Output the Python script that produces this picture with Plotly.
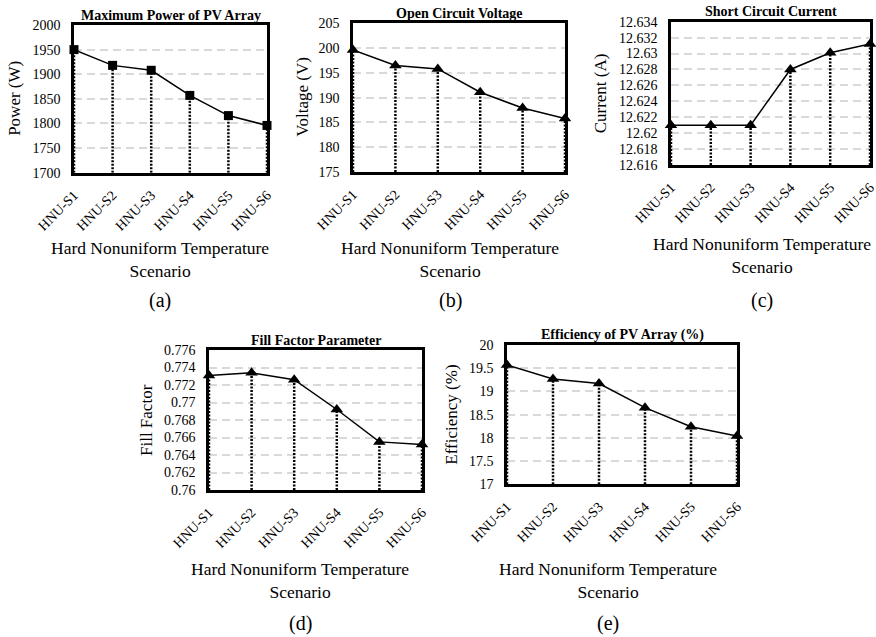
import plotly.graph_objects as go

W, H = 876, 637
FONT = "Times New Roman, Liberation Serif, DejaVu Serif, serif"

scenarios = ["HNU-S1", "HNU-S2", "HNU-S3", "HNU-S4", "HNU-S5", "HNU-S6"]
power = [1950, 1918, 1908, 1857, 1816, 1796]
voltage = [199.6, 196.5, 195.8, 191.1, 187.9, 185.8]
current = [12.621, 12.621, 12.621, 12.628, 12.6301, 12.6312]
fill_factor = [0.7731, 0.7734, 0.7726, 0.7692, 0.7655, 0.7652]
efficiency = [19.57, 19.27, 19.17, 18.65, 18.24, 18.04]

panels = [
    dict(y=power, title="Maximum Power of PV Array", ytitle="Power (W)", rng=[1700, 2000], dtick=50,
         marker="square", px=(74, 267, 25, 172.7), ytx=15, label="(a)", lx=160, ly=(259, 300)),
    dict(y=voltage, title="Open Circuit Voltage", ytitle="Voltage (V)", rng=[175, 205], dtick=5,
         marker="triangle-up", px=(353, 565, 23.3, 172), ytx=303, label="(b)", lx=450, ly=(259, 300)),
    dict(y=current, title="Short Circuit Current", ytitle="Current (A)", rng=[12.616, 12.634], dtick=0.002,
         marker="triangle-up", px=(671, 870, 21.7, 165), ytx=600, label="(c)", lx=762, ly=(256, 300)),
    dict(y=fill_factor, title="Fill Factor Parameter", ytitle="Fill Factor", rng=[0.76, 0.776], dtick=0.002,
         marker="triangle-up", px=(209, 422, 350, 490), ytx=146, label="(d)", lx=300, ly=(580, 623)),
    dict(y=efficiency, title="Efficiency of PV Array (%)", ytitle="Efficiency (%)", rng=[17, 20], dtick=0.5,
         marker="triangle-up", px=(507, 737, 345, 484.3), ytx=452, label="(e)", lx=608, ly=(580, 623)),
]

fig = go.Figure()
annotations = []

for i, p in enumerate(panels, start=1):
    xa = "x" if i == 1 else f"x{i}"
    ya = "y" if i == 1 else f"y{i}"
    x0, x1, top, bot = p["px"]
    ymin = p["rng"][0]
    # dotted drop lines from each point to the x axis
    for s, v in zip(scenarios, p["y"]):
        fig.add_trace(go.Scatter(x=[s, s], y=[ymin, v], mode="lines", xaxis=xa, yaxis=ya,
                                 line=dict(color="black", width=2.5, dash="2px,1.5px"),
                                 showlegend=False, hoverinfo="skip", cliponaxis=False))
    fig.add_trace(go.Scatter(x=scenarios, y=p["y"], mode="lines+markers", xaxis=xa, yaxis=ya,
                             line=dict(color="black", width=1.5),
                             marker=dict(symbol=p["marker"], size=9 if p["marker"] == "square" else 11,
                                         color="black"),
                             showlegend=False, cliponaxis=False))
    axkey = "xaxis" if i == 1 else f"xaxis{i}"
    aykey = "yaxis" if i == 1 else f"yaxis{i}"
    fig.layout[axkey] = dict(
        domain=[x0 / W, x1 / W], anchor=ya, type="category", categoryorder="array",
        categoryarray=scenarios, range=[0, 5], tickangle=-45, showgrid=False,
        showline=True, linecolor="black", linewidth=2.5, mirror=True, ticks="",
        tickfont=dict(family=FONT, size=14, color="black"), ticklabelstandoff=6,
        zeroline=False, automargin=False,
    )
    fig.layout[aykey] = dict(
        domain=[1 - bot / H, 1 - top / H], anchor=xa, range=p["rng"], dtick=p["dtick"],
        tick0=p["rng"][0], showgrid=True, gridcolor="#d9d9d9", gridwidth=2, griddash="8px,5px",
        showline=True, linecolor="black", linewidth=2.5, mirror=True, ticks="",
        tickfont=dict(family=FONT, size=14, color="black"), ticklabelstandoff=8,
        zeroline=False, automargin=False,
    )
    # chart title
    annotations.append(dict(text=f"<b>{p['title']}</b>", x=(x0 + x1) / 2 / W, y=1 - (top - 10) / H,
                            xref="paper", yref="paper", xanchor="center", yanchor="middle",
                            showarrow=False, font=dict(family=FONT, size=14, color="black")))
    # y axis title
    annotations.append(dict(text=p["ytitle"], x=p["ytx"] / W, y=1 - (top + bot) / 2 / H,
                            xref="paper", yref="paper", xanchor="center", yanchor="middle",
                            textangle=-90, showarrow=False,
                            font=dict(family=FONT, size=17, color="black")))
    # x axis title (two lines) and panel label
    l1, l3 = p["ly"]
    annotations.append(dict(text="Hard Nonuniform Temperature<br>Scenario", x=p["lx"] / W, y=1 - l1 / H,
                            xref="paper", yref="paper", xanchor="center", yanchor="middle",
                            showarrow=False, font=dict(family=FONT, size=17.5, color="black")))
    annotations.append(dict(text=p["label"], x=p["lx"] / W, y=1 - l3 / H,
                            xref="paper", yref="paper", xanchor="center", yanchor="middle",
                            showarrow=False, font=dict(family=FONT, size=20, color="black")))

fig.update_layout(
    width=W, height=H, margin=dict(l=0, r=0, t=0, b=0, autoexpand=False),
    paper_bgcolor="white", plot_bgcolor="white",
    annotations=annotations, showlegend=False,
)

fig.write_html("out.html")
